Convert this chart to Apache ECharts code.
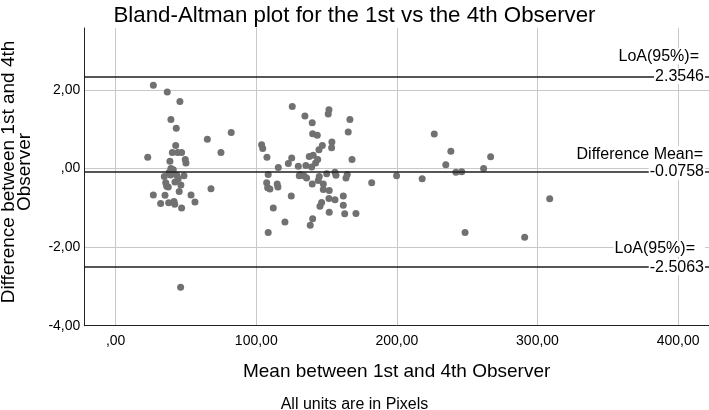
<!DOCTYPE html>
<html>
<head>
<meta charset="utf-8">
<script src="https://cdn.jsdelivr.net/npm/echarts@6/dist/echarts.min.js"></script>
<style>html,body{margin:0;padding:0;background:#fff}#c{width:709px;height:410px}</style>
</head>
<body>
<div id="c"></div>
<script>
// Mean of 1st and 4th observer (pixels)
const meanValues = [
  26.8, 36.7, 45.7, 39.3, 43.1, 65.2, 82.2, 42.7, 74.9, 22.8,
  40.3, 44.1, 46.9, 38.6, 49.5, 50.0, 39.3, 41.0, 34.6, 39.1,
  43.4, 48.6, 35.6, 42.2, 46.4, 37.4, 45.2, 36.3, 67.8, 26.8,
  35.1, 53.6, 32.0, 37.7, 41.5, 42.0, 46.9, 56.4, 46.2, 38.0, 44.5,
  103.8, 104.6, 107.6, 125.6, 125.2, 122.8, 129.9, 115.7, 108.5, 130.6,
  107.4, 108.1, 109.7, 114.9, 115.4, 124.9, 112.1, 120.4, 108.5, 134.6,
  139.8, 151.7, 151.2, 166.6, 165.4, 140.1, 143.4, 153.8, 153.6, 147.0,
  144.6, 137.7, 140.5, 143.7, 142.2, 135.3, 139.4, 168.1, 131.1, 133.9,
  135.8, 144.8, 150.1, 156.0, 156.7, 164.7, 163.8, 144.1, 147.7, 139.8,
  147.7, 151.9, 156.0, 161.9, 151.7, 146.5, 145.3, 161.9, 151.9, 162.9,
  170.9, 140.1, 138.4, 182.1,
  199.8, 218.0, 226.6, 238.4, 234.8, 242.0, 246.1, 248.5, 261.7, 266.7,
  290.9, 308.7
];
// Difference between 1st and 4th observer (pixels)
const diffValues = [
  2.12, 1.95, 1.71, 1.25, 1.03, 0.75, 0.92, 0.59, 0.41, 0.29,
  0.41, 0.41, 0.41, 0.19, 0.23, 0.14, 0.00, -0.03, -0.20, -0.16,
  -0.16, -0.18, -0.36, -0.34, -0.42, -0.47, -0.58, -0.45, -0.51, -0.67,
  -0.68, -0.67, -0.89, -0.87, -0.84, -0.91, -1.00, -0.85, -3.02, -0.10, -0.26,
  0.61, 0.51, 0.29, 1.58, 0.27, 0.13, 0.06, 0.03, -0.15, -0.18,
  -0.36, -0.49, -0.52, -0.39, -0.47, -0.70, -1.00, -1.36, -1.63, 1.34,
  1.17, 1.50, 1.39, 1.25, 0.93, 0.89, 0.85, 0.68, 0.53, 0.59,
  0.48, 0.31, 0.34, 0.23, 0.14, 0.08, 0.04, 0.23, -0.15, -0.18,
  -0.24, -0.20, -0.13, -0.09, -0.17, -0.15, -0.24, -0.30, -0.39, -0.39,
  -0.53, -0.56, -0.79, -0.70, -0.76, -0.86, -0.96, -0.93, -1.11, -1.15,
  -1.14, -1.28, -1.44, -0.36,
  -0.18, -0.26, 0.88, 0.44, 0.10, -0.09, -0.08, -1.63, 0.00, 0.30,
  -1.75, -0.77
];
const xTicks = [0, 100, 200, 300, 400];
const yTicks = [-4, -2, 0, 2];
const refValues = [2.3546, -0.0758, -2.5063];
const refCaptions = ['LoA(95%)=', 'Difference Mean=', 'LoA(95%)='];

const FONT = "'Liberation Sans', Arial, Helvetica, sans-serif";
const fmt = v => {
  let s = Math.abs(v).toFixed(2).replace('.', ',');
  if (s.startsWith('0,')) s = s.slice(1);
  return (v < 0 ? '-' : '') + s;
};

const labelPad = [6, 2, 10];
const capLH = [20, 15, 17];

const chart = echarts.init(document.getElementById('c'), null, {renderer: 'canvas'});
chart.setOption({
  animation: false,
  backgroundColor: '#fff',
  textStyle: {fontFamily: FONT},
  title: {
    text: 'Bland-Altman plot for the 1st vs the 4th Observer',
    left: 'center', top: 0,
    textStyle: {fontSize: 22.3, fontWeight: 'normal', color: '#000', fontFamily: FONT}
  },
  grid: {left: 84.3, right: 0, top: 28, bottom: 84.3, containLabel: false},
  xAxis: {
    type: 'value', min: -22.3, max: 422,
    name: 'Mean between 1st and 4th Observer',
    nameLocation: 'middle', nameGap: 37,
    nameTextStyle: {fontSize: 19, color: '#000', fontFamily: FONT},
    axisLine: {show: true, onZero: false, lineStyle: {color: '#222', width: 1}},
    axisTick: {show: false, customValues: xTicks},
    axisLabel: {customValues: xTicks, formatter: fmt, fontSize: 14, color: '#000', margin: 8, fontFamily: FONT},
    splitLine: {show: true, lineStyle: {color: '#c8c8c8', width: 1}}
  },
  yAxis: {
    type: 'value', min: -4, max: 3.58, interval: 2,
    axisLine: {show: true, onZero: false, lineStyle: {color: '#222', width: 1}},
    axisTick: {show: false},
    axisLabel: {formatter: fmt, fontSize: 14, color: '#000', margin: 4, showMaxLabel: false, fontFamily: FONT},
    splitLine: {show: true, showMaxLine: false, showMinLine: false, lineStyle: {color: '#c8c8c8', width: 1}}
  },
  graphic: [
    {
      type: 'text', x: 17, y: 172, rotation: Math.PI / 2,
      style: {
        text: 'Difference between 1st and 4th\nObserver',
        font: '19px ' + FONT, fill: '#000', align: 'center', verticalAlign: 'middle', lineHeight: 16
      }
    },
    {
      type: 'text', left: 'center', top: 397,
      style: {text: 'All units are in Pixels', font: '16px ' + FONT, fill: '#000'}
    }
  ],
  series: [{
    type: 'scatter',
    data: meanValues.map((m, i) => [m, diffValues[i]]),
    symbolSize: 7,
    itemStyle: {color: '#717171', opacity: 1},
    markLine: {
      silent: true,
      symbol: ['none', 'none'],
      lineStyle: {color: '#1e1e1e', width: 1.5, type: 'solid'},
      data: refValues.map((v, i) => ({
        yAxis: v,
        label: {
          show: true,
          position: 'insideEndTop',
          distance: [4, -10],
          formatter: '{a|' + refCaptions[i] + '}\n{b|' + v.toFixed(4) + '}',
          rich: {
            a: {fontSize: 16, color: '#000', fontFamily: FONT, backgroundColor: '#fff', lineHeight: capLH[i], padding: [0, labelPad[i], 0, 1], align: 'right'},
            b: {fontSize: 16, color: '#000', fontFamily: FONT, backgroundColor: '#fff', lineHeight: 20, padding: [0, 1, 0, 1], align: 'right'}
          }
        }
      }))
    }
  }]
});
</script>
</body>
</html>
